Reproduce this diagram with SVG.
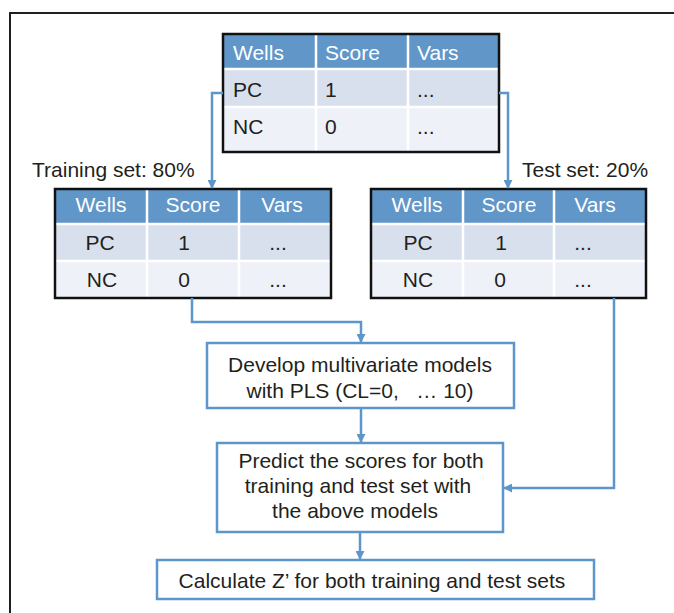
<svg xmlns="http://www.w3.org/2000/svg" width="674" height="613" viewBox="0 0 674 613">
  <defs>
    <marker id="arrow" viewBox="0 0 10 10" refX="9" refY="5" markerWidth="9" markerHeight="9" orient="auto" markerUnits="userSpaceOnUse">
      <path d="M0,0 L10,5 L0,10 z" fill="#5e96cc"/>
    </marker>
    <style>
      text { font-family: "Liberation Sans", Arial, sans-serif; font-size: 21px; fill: #231f20; }
      .hd { fill: #ffffff; }
      .big { font-size: 21px; white-space: pre; }
      .mid { text-anchor: middle; }
      .hdr { fill: #6096c8; }
      .r1 { fill: #d8e0ed; }
      .r2 { fill: #eef2f8; }
      .grid { stroke: #ffffff; stroke-width: 2.5; fill: none; }
      .outline { stroke: #111111; stroke-width: 2.5; fill: none; }
      .box { fill: #ffffff; stroke: #5e96cc; stroke-width: 2.5; }
      .conn { fill: none; stroke: #5e96cc; stroke-width: 2.5; }
      .frame { stroke: #231f20; stroke-width: 2; fill: none; }
    </style>
  </defs>

  <!-- outer frame (top and left edges) -->
  <path class="frame" d="M10,613 L10,13 L674,13"/>

  <!-- full data table -->
  <g id="table-all">
    <rect class="hdr" x="223" y="34" width="276" height="35"/>
    <rect class="r1" x="223" y="69" width="276" height="38"/>
    <rect class="r2" x="223" y="107" width="276" height="45"/>
    <path class="grid" d="M223,69 H499 M223,107 H499 M316,34 V152 M408,34 V152"/>
    <rect class="outline" x="223" y="34" width="276" height="118"/>
    <text class="hd" x="233" y="60">Wells</text>
    <text class="hd" x="325" y="60">Score</text>
    <text class="hd" x="417" y="60">Vars</text>
    <text x="233" y="97">PC</text>
    <text x="325" y="97">1</text>
    <text x="417" y="97">...</text>
    <text x="233" y="134">NC</text>
    <text x="325" y="134">0</text>
    <text x="417" y="134">...</text>
  </g>

  <!-- training subset -->
  <g id="table-train">
    <text class="big" x="32" y="177">Training set: 80%</text>
    <rect class="hdr" x="55" y="189" width="276" height="35"/>
    <rect class="r1" x="55" y="224" width="276" height="37"/>
    <rect class="r2" x="55" y="261" width="276" height="37"/>
    <path class="grid" d="M55,224 H331 M55,261 H331 M147,189 V298 M239,189 V298"/>
    <rect class="outline" x="55" y="189" width="276" height="109"/>
    <text class="hd mid" x="101" y="212">Wells</text>
    <text class="hd mid" x="193" y="212">Score</text>
    <text class="hd mid" x="282" y="212">Vars</text>
    <text class="mid" x="100" y="250">PC</text>
    <text class="mid" x="184" y="250">1</text>
    <text class="mid" x="278" y="250">...</text>
    <text class="mid" x="102" y="287">NC</text>
    <text class="mid" x="184" y="287">0</text>
    <text class="mid" x="278" y="287">...</text>
  </g>

  <!-- test subset -->
  <g id="table-test">
    <text class="big" x="522" y="177">Test set: 20%</text>
    <rect class="hdr" x="371" y="189" width="275" height="35"/>
    <rect class="r1" x="371" y="224" width="275" height="37"/>
    <rect class="r2" x="371" y="261" width="275" height="37"/>
    <path class="grid" d="M371,224 H646 M371,261 H646 M463,189 V298 M554,189 V298"/>
    <rect class="outline" x="371" y="189" width="275" height="109"/>
    <text class="hd mid" x="417" y="212">Wells</text>
    <text class="hd mid" x="509" y="212">Score</text>
    <text class="hd mid" x="595" y="212">Vars</text>
    <text class="mid" x="418" y="250">PC</text>
    <text class="mid" x="501" y="250">1</text>
    <text class="mid" x="583" y="250">...</text>
    <text class="mid" x="418" y="287">NC</text>
    <text class="mid" x="500" y="287">0</text>
    <text class="mid" x="583" y="287">...</text>
  </g>

  <!-- processing steps -->
  <g id="step-develop">
    <rect class="box" x="207" y="343" width="307" height="65"/>
    <text class="big mid" x="360" y="372">Develop multivariate models</text>
    <text class="big mid" x="360" y="398">with PLS (CL=0,   … 10)</text>
  </g>

  <g id="step-predict">
    <rect class="box" x="217" y="443" width="286" height="89"/>
    <text class="big mid" x="361" y="468">Predict the scores for both</text>
    <text class="big mid" x="358" y="493">training and test set with</text>
    <text class="big mid" x="355" y="518">the above models</text>
  </g>

  <g id="step-calc">
    <rect class="box" x="157" y="560" width="437" height="39"/>
    <text class="big mid" x="372" y="588">Calculate Z’ for both training and test sets</text>
  </g>

  <!-- connectors -->
  <g id="connectors">
    <path class="conn" marker-end="url(#arrow)" d="M223,93 H212 V188"/>
    <path class="conn" marker-end="url(#arrow)" d="M499,93 H508 V188"/>
    <path class="conn" marker-end="url(#arrow)" d="M192,298 V322 H361 V342"/>
    <path class="conn" marker-end="url(#arrow)" d="M614,298 V488 H504"/>
    <path class="conn" marker-end="url(#arrow)" d="M361,408 V442"/>
    <path class="conn" marker-end="url(#arrow)" d="M360,532 V559"/>
  </g>
</svg>
